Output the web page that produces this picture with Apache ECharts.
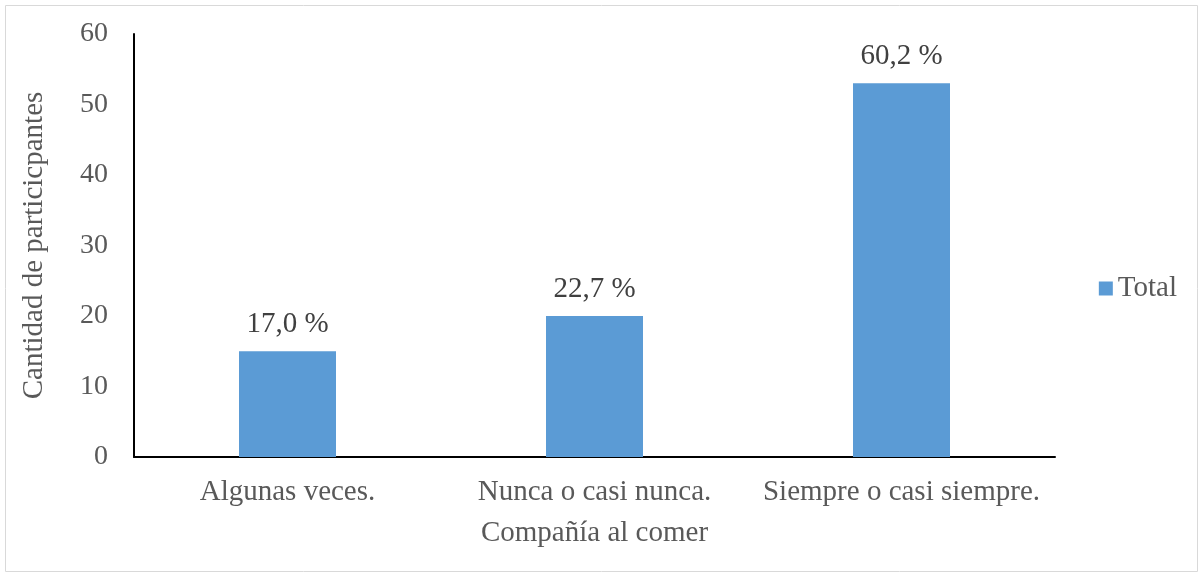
<!DOCTYPE html>
<html><head><meta charset="utf-8">
<script src="https://cdn.jsdelivr.net/npm/echarts@6/dist/echarts.min.js"></script>
<style>html,body{margin:0;padding:0;background:#fff}#c{width:1204px;height:577px}</style>
</head><body><div id="c"></div>
<script>
const categories = ['Algunas veces.', 'Nunca o casi nunca.', 'Siempre o casi siempre.'];
const counts = [15, 20, 53];
const pctLabels = ['17,0 %', '22,7 %', '60,2 %'];
const seriesName = 'Total';
const xName = 'Compañía al comer';
const yName = 'Cantidad de particicpantes';

const FONT = '"Liberation Serif", "Times New Roman", serif';
const FS = 29;
const chart = echarts.init(document.getElementById('c'));
chart.setOption({
  animation: false,
  textStyle: { fontFamily: FONT },
  graphic: [{ type: 'rect', shape: { x: 5.5, y: 5.5, width: 1192, height: 566 },
    style: { fill: 'none', stroke: '#d9d9d9', lineWidth: 1 }, silent: true }],
  grid: { left: 134, top: 34, right: 149, bottom: 120 },
  legend: {
    data: [seriesName], right: 22, top: 'middle', orient: 'vertical',
    itemWidth: 14, itemHeight: 14, itemGap: 6, icon: 'rect',
    textStyle: { fontFamily: FONT, fontSize: FS, color: '#595959' }
  },
  xAxis: {
    type: 'category', data: categories,
    name: xName, nameLocation: 'middle', nameGap: 62,
    nameTextStyle: { fontFamily: FONT, fontSize: FS, color: '#595959' },
    axisLine: { lineStyle: { color: '#000', width: 2 } },
    axisTick: { show: false },
    axisLabel: { interval: 0, hideOverlap: false, fontFamily: FONT, fontSize: FS, color: '#595959', margin: 21 }
  },
  yAxis: {
    type: 'value', min: 0, max: 60, interval: 10,
    name: yName, nameLocation: 'middle', nameGap: 85, nameRotate: 90,
    nameTextStyle: { fontFamily: FONT, fontSize: FS, color: '#595959' },
    axisLine: { show: true, lineStyle: { color: '#000', width: 2 } },
    axisTick: { show: false },
    splitLine: { show: false },
    axisLabel: { fontFamily: FONT, fontSize: 28, color: '#595959', margin: 26 }
  },
  series: [{
    name: seriesName, type: 'bar', data: counts, barWidth: 97,
    itemStyle: { color: '#5b9bd5' },
    label: { show: true, position: 'top', distance: 12,
      fontFamily: FONT, fontSize: FS, color: '#404040',
      formatter: p => pctLabels[p.dataIndex] }
  }]
});
</script></body></html>
